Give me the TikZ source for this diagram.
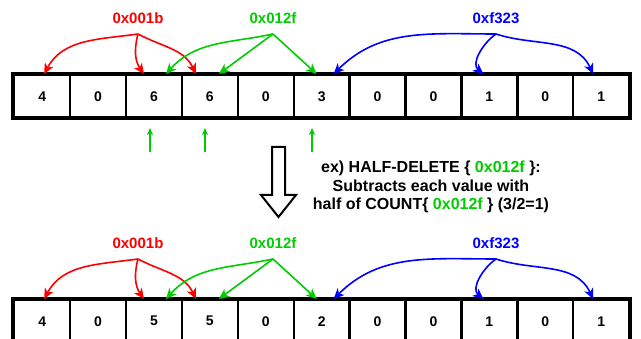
\documentclass[tikz,border=0pt]{standalone}
\usepackage{fontspec}
\setmainfont{Liberation Sans}
\usetikzlibrary{arrows.meta}
\definecolor{hred}{RGB}{255,0,0}
\definecolor{hgreen}{RGB}{0,204,0}
\definecolor{hblue}{RGB}{0,0,255}

% one counter array, its three keys and their hashed positions
\newcommand{\counterrow}[3]{%
  \foreach \v [count=\i] in {#3}
    \node[cell] (#1\i) at ({13+55.9*(\i-1)},{#2+74}) {\v};
  \draw[frame] (#11.north west) rectangle (#111.south east);
  \node[keylabel, text=hred]   (#1kr) at (138,{#2+18}) {0x001b};
  \node[keylabel, text=hgreen] (#1kg) at (273,{#2+18}) {0x012f};
  \node[keylabel, text=hblue]  (#1kb) at (496,{#2+18}) {0xf323};
  \coordinate (#1sr) at (138,{#2+34});
  \coordinate (#1sg) at (273,{#2+34});
  \coordinate (#1sb) at (496,{#2+34});
  \coordinate (#1r1) at ([xshift=2pt]#11.north);
  \coordinate (#1r2) at ([xshift=-10pt]#13.north);
  \coordinate (#1r3) at ([xshift=-14pt]#14.north);
  \coordinate (#1g1) at ([xshift=12pt]#13.north);
  \coordinate (#1g2) at ([xshift=9pt]#14.north);
  \coordinate (#1g3) at ([xshift=-5pt]#16.north);
  \coordinate (#1b1) at ([xshift=12pt]#16.north);
  \coordinate (#1b2) at ([xshift=-6pt]#19.north);
  \coordinate (#1b3) at ([xshift=-8pt]#111.north);
  \draw[link, hred] (#1sr) to[out=188,in=62] (#1r1);
  \draw[link, hred] (#1sr) to[out=255,in=125] (#1r2);
  \draw[link, hred] (#1sr) to[out=-28,in=115] (#1r3);
  \draw[link, hgreen] (#1sg) to[out=192,in=48] (#1g1);
  \draw[link, hgreen] (#1sg) -- (#1g2);
  \draw[link, hgreen] (#1sg) -- (#1g3);
  \draw[link, hblue] (#1sb) to[out=180,in=45] (#1b1);
  \draw[link, hblue] (#1sb) to[out=215,in=140] (#1b2);
  \draw[link, hblue] (#1sb) to[out=-18,in=115] (#1b3);
}

\begin{document}
\begin{tikzpicture}[x=1pt,y=-1pt,
  cell/.style={draw, line width=2.4pt, minimum width=55.9pt, minimum height=42pt,
    inner sep=0pt, anchor=north west, font=\fontsize{14}{16}\selectfont\bfseries},
  frame/.style={line width=3.6pt},
  keylabel/.style={font=\fontsize{15}{17}\selectfont\bfseries, inner sep=0pt},
  link/.style={line width=1.6pt, -{Stealth[length=10.5pt,width=9.5pt,inset=3pt]}},
  marker/.style={line width=1.4pt, hgreen, -{Stealth[length=7pt,width=6pt,inset=2pt]}},
  bigarrow/.style={draw, line width=2pt, fill=white, line join=miter}
]
\useasboundingbox (0,0) rectangle (641,339);

\counterrow{t}{0}{4,0,6,6,0,3,0,0,1,0,1}
\counterrow{u}{225}{4,0,5,5,0,2,0,0,1,0,1}

% cells of the deleted key
\coordinate (m1) at (150,152);
\coordinate (m2) at (205,152);
\coordinate (m3) at (312,152);
\draw[marker] (m1) -- ++(0,-24);
\draw[marker] (m2) -- ++(0,-24);
\draw[marker] (m3) -- ++(0,-24);

% hollow down arrow between the two states
\draw[bigarrow] (272,147) -- (285,147) -- (285,195) -- (296,195) -- (278.5,217)
  -- (261,195) -- (272,195) -- cycle;

\node[align=center, font=\fontsize{16}{18.5}\selectfont\bfseries] (note) at (431,187)
  {ex) HALF-DELETE \{ \textcolor{hgreen}{0x012f} \}:\\
   Subtracts each value with\\
   half of COUNT\{ \textcolor{hgreen}{0x012f} \} (3/2=1)};
\end{tikzpicture}
\end{document}
